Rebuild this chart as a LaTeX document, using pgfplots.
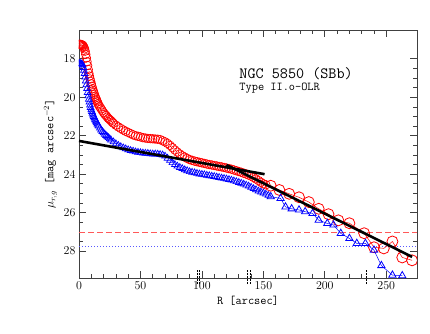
\documentclass[border=0pt]{standalone}
\usepackage{pgfplots}
\pgfplotsset{compat=1.18}
\begin{document}
\begin{tikzpicture}
\useasboundingbox (-79pt,-55pt) rectangle (351pt,278pt);
\begin{axis}[
    at={(0,0)}, anchor=south west,
    scale only axis, width=338pt, height=248pt,
    xmin=0, xmax=275, ymin=16.5, ymax=29.4, y dir=reverse,
    xtick={0,50,...,250}, ytick={18,20,...,28},
    minor x tick num=4, minor y tick num=3,
    tick align=inside, major tick length=7pt, minor tick length=4pt,
    axis line style={black!75, line width=0.7pt},
    every tick/.style={black!75, line width=0.7pt},
    ticklabel style={font=\fontsize{13}{15}\selectfont},
    xlabel={R [arcsec]},
    ylabel={$\mu_{r,g}$ [mag arcsec$^{-2}$]},
    label style={font=\fontsize{12}{14}\ttfamily},
    clip marker paths=true,
]
% sky limits
\addplot[red!65, dashed, line width=0.7pt, dash pattern=on 6pt off 3pt] coordinates {(0,27.05) (275,27.05)};
\addplot[blue!65, line width=0.8pt, dash pattern=on 1pt off 2pt] coordinates {(0,27.75) (275,27.75)};

% r-band, inner (dense)
\addplot[red, only marks, mark=o, mark size=4.3pt, mark options={line width=0.7pt}] coordinates {
(0,17.25) (0.5,17.25) (1,17.25) (1.5,17.25) (2,17.26) (2.5,17.28) (3,17.3) (3.5,17.34) (4,17.4) (4.5,17.48)
(5,17.6) (5.5,17.77) (6,17.95) (6.5,18.15) (7,18.35) (7.5,18.55) (8,18.75) (8.5,18.9) (9,19.05) (9.5,19.18)
(10,19.3) (10.5,19.43) (11,19.55) (11.5,19.65) (12,19.75) (12.5,19.85) (13,19.95) (13.5,20.03) (14,20.1) (14.5,20.18)
(15,20.25) (15.5,20.33) (16,20.4) (17,20.5) (18,20.6) (19,20.7) (20,20.8) (21,20.88) (22,20.95) (23,21.03)
(24,21.1) (25,21.16) (26,21.22) (27,21.29) (28,21.35) (30,21.45) (32,21.54) (34,21.62) (36,21.7) (38,21.77)
(40,21.83) (42,21.89) (44,21.95) (46,22.0) (48,22.03) (50,22.06) (52,22.1) (54,22.12) (56,22.14) (58,22.15)
(60,22.16) (62,22.17) (64,22.18) (66,22.2) (68,22.26) (70,22.32) (72,22.4) (74,22.5) (76,22.62) (78,22.74)
(80,22.85) (82,22.95) (84,23.04) (86,23.11) (88,23.18) (90,23.24) (92,23.28) (94,23.32) (96,23.35) (98,23.38)
(100,23.41) (102,23.44) (104,23.47) (106,23.5) (108,23.52) (110,23.55) (112,23.57) (114,23.6) (116,23.62) (118,23.65)
(120,23.68) (122,23.71) (124,23.74) (126,23.78) (128,23.82) (130,23.86) (132,23.9) (134,23.95) (136,23.99) (138,24.04)
(140,24.1) (142,24.17) (144,24.25) (146,24.33) (148,24.42) (150,24.5) (152,24.55)
};
% g-band, inner (dense)
\addplot[blue, only marks, mark=triangle, mark size=3.9pt, mark options={line width=0.7pt}] coordinates {
(0,18.25) (0.5,18.25) (1,18.25) (1.5,18.26) (2,18.27) (2.5,18.29) (3,18.32) (3.5,18.45) (4,18.6) (4.5,18.77)
(5,18.95) (5.5,19.15) (6,19.35) (6.5,19.55) (7,19.75) (7.5,19.93) (8,20.1) (8.5,20.25) (9,20.4) (9.5,20.53)
(10,20.65) (10.5,20.74) (11,20.83) (11.5,20.92) (12,21.0) (12.5,21.07) (13,21.14) (13.5,21.2) (14,21.27) (14.5,21.33)
(15,21.39) (15.5,21.45) (16,21.5) (17,21.6) (18,21.7) (19,21.78) (20,21.85) (21,21.92) (22,21.99) (23,22.05)
(24,22.1) (25,22.16) (26,22.22) (28,22.32) (30,22.42) (32,22.5) (34,22.57) (36,22.63) (38,22.68)
(40,22.73) (42,22.77) (44,22.8) (46,22.84) (48,22.86) (50,22.88) (52,22.9) (54,22.91) (56,22.92) (58,22.94)
(60,22.95) (62,22.95) (64,22.96) (66,22.98) (68,23.0) (70,23.06) (72,23.17) (74,23.28) (76,23.4) (78,23.5)
(80,23.58) (82,23.65) (84,23.71) (86,23.77) (88,23.82) (90,23.87) (92,23.9) (94,23.93) (96,23.96) (98,23.99)
(100,24.01) (102,24.03) (104,24.06) (106,24.08) (108,24.1) (110,24.12) (112,24.15) (114,24.17) (116,24.2) (118,24.22)
(120,24.25) (122,24.28) (124,24.31) (126,24.35) (128,24.39) (130,24.43) (132,24.47) (134,24.52) (136,24.57) (138,24.62)
(140,24.68) (142,24.75) (144,24.81) (146,24.88) (148,24.93) (150,24.98) (152,25.04) (154,25.1)
};
% r-band, outer
\addplot[red, line width=0.5pt, mark=o, mark size=5.5pt, mark options={line width=0.8pt}] coordinates {
(156,24.6) (163,24.82) (171,25.02) (179,25.2) (187,25.45) (195,25.8) (203,26.08) (211,26.4)
(220,26.55) (232,27.07) (240,27.8) (248,27.86) (255,27.5) (263,28.33) (271,28.48)
};
% g-band, outer
\addplot[blue, line width=0.5pt, mark=triangle, mark size=4.2pt, mark options={line width=0.8pt}] coordinates {
(156,25.17) (164,25.26) (168,25.7) (173,25.8) (179,25.86) (184,25.95) (190,26.04) (195,26.39)
(202,26.56) (207,26.64) (213,27.08) (220,27.34) (226,27.6) (233,27.6) (240,27.95) (246,28.75)
(255,29.25) (263,29.28)
};

% exponential fits
\addplot[black, line width=2.6pt] coordinates {(0,22.27) (151,24.0)};
\addplot[black, line width=2.6pt] coordinates {(120,23.52) (271,28.3)};

\node[anchor=west, font=\fontsize{15.7}{18}\ttfamily] at (axis cs:127.7,18.78) {NGC 5850 (SBb)};
\node[anchor=west, font=\fontsize{12}{14}\ttfamily] at (axis cs:127.7,19.54) {Type II.o-OLR};

% break radii positions on the bottom axis
\coordinate (b1) at (axis cs:96,29.4);
\coordinate (b2) at (axis cs:98,29.4);
\coordinate (b3) at (axis cs:137,29.4);
\coordinate (b4) at (axis cs:139.5,29.4);
\coordinate (b5) at (axis cs:233.5,29.4);
\end{axis}
\foreach \b in {b1,b2,b3,b4,b5}
  \draw[black, line width=0.6pt, dash pattern=on 2pt off 1pt] (\b) ++(0,-6pt) -- ++(0,14pt);
\end{tikzpicture}
\end{document}
